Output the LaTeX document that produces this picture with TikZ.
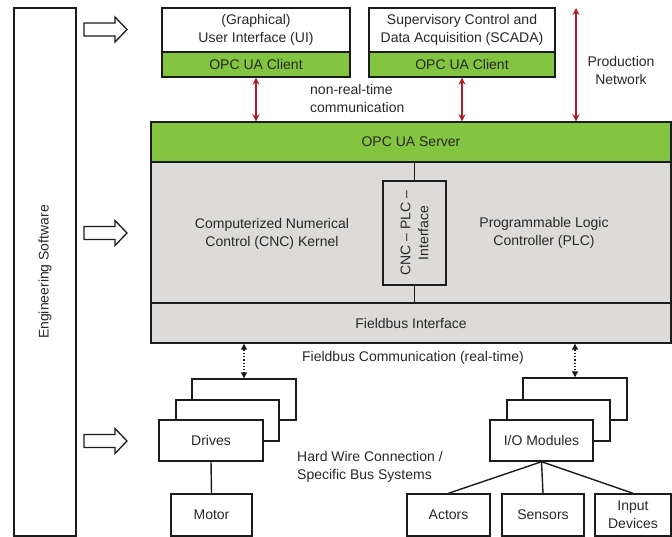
\documentclass[tikz,border=0pt]{standalone}
\usepackage{fontspec}
\setmainfont{Liberation Sans}
\usetikzlibrary{arrows.meta}
\definecolor{opcgreen}{RGB}{131,196,65}
\definecolor{coregray}{RGB}{220,219,217}
\definecolor{netred}{RGB}{180,28,42}
\definecolor{edgecol}{RGB}{28,28,28}
\definecolor{txtcol}{RGB}{40,40,40}

\begin{document}
\begin{tikzpicture}[x=1pt,y=-1pt,
  every node/.style={font=\fontsize{14}{18}\selectfont, text=txtcol},
  box/.style={draw=edgecol, line width=1.4pt, inner sep=0pt, align=center, fill=white},
  greenbox/.style={box, fill=opcgreen},
  graybox/.style={box, fill=coregray},
  label/.style={inner sep=0pt, align=center},
  hollow/.style={draw=edgecol, line width=1.3pt, fill=white, line join=miter},
  netlink/.style={draw=netred, line width=1.7pt, {Stealth[length=7pt,width=7pt]}-{Stealth[length=7pt,width=7pt]}},
  buslink/.style={draw=edgecol, line width=1.3pt, dotted, {Triangle[length=6pt,width=6pt]}-{Triangle[length=6pt,width=6pt]}},
  wire/.style={draw=edgecol, line width=1.4pt}
]
\useasboundingbox (0,0) rectangle (672,537);

% engineering software column
\node[box, minimum width=62pt, minimum height=528pt] (eng) at (45,272) {};
\node[label, rotate=90] (engtxt) at (45,272) {Engineering Software};

% hollow arrows from the engineering software (tail point given)
\foreach \name/\yy in {a1/29.5, a2/233, a3/441} {
  \coordinate (\name) at (84,\yy);
  \draw[hollow] (\name) ++(0,-6.5) -- ++(31,0) -- ++(0,-6) -- ++(12,12.5)
     -- ++(-12,12.5) -- ++(0,-6) -- ++(-31,0) -- cycle;
}

% client applications
\node[box, minimum width=188pt, minimum height=44pt] (ui) at (256,30) {(Graphical)\\User Interface (UI)};
\node[greenbox, minimum width=188pt, minimum height=25pt] (uic) at (256,64.5) {OPC UA Client};
\node[box, minimum width=186pt, minimum height=44pt] (scada) at (462,30) {Supervisory Control and\\Data Acquisition (SCADA)};
\node[greenbox, minimum width=186pt, minimum height=25pt] (scadac) at (462,64.5) {OPC UA Client};

% controller block
\node[graybox, minimum width=520pt, minimum height=141pt] (core) at (411,232.5) {};
\node[greenbox, minimum width=520pt, minimum height=40pt] (server) at (411,142) {OPC UA Server};
\node[graybox, minimum width=520pt, minimum height=40pt] (fieldbus) at (411,323) {Fieldbus Interface};
\node[graybox, minimum width=63pt, minimum height=104pt] (cncplc) at (414.5,233) {};
\node[label, rotate=90] (cncplctxt) at (414.5,233) {CNC -- PLC --\\Interface};
\draw[wire] (cncplc.north) -- (cncplc.north |- core.north);
\draw[wire] (cncplc.south) -- (cncplc.south |- fieldbus.north);
\node[label] (cnc) at (272,234) {Computerized Numerical\\Control (CNC) Kernel};
\node[label] (plc) at (544,233) {Programmable Logic\\Controller (PLC)};

% production network
\coordinate (prodtop) at (576,8);
\draw[netlink] (uic.south) -- (uic.south |- server.north);
\draw[netlink] (scadac.south) -- (scadac.south |- server.north);
\draw[netlink] (prodtop) -- (prodtop |- server.north);
\node[label, align=left, anchor=west] (nrt) at (310,98.5) {non-real-time\\communication};
\node[label] (prodnet) at (621,70.5) {Production\\Network};

% field devices: drives
\node[box, minimum width=104pt, minimum height=41pt] (drv3) at (244,399.5) {};
\node[box, minimum width=103pt, minimum height=41pt] (drv2) at (227.5,420.5) {};
\node[box, minimum width=104pt, minimum height=41pt] (drives) at (211,440.5) {Drives};
\node[box, minimum width=81pt, minimum height=42pt] (motor) at (211.5,515) {Motor};
\draw[wire] (drives.south) -- (motor.north);

% field devices: I/O modules
\node[box, minimum width=104pt, minimum height=42pt] (io3) at (575,399) {};
\node[box, minimum width=103pt, minimum height=41pt] (io2) at (558.5,420.5) {};
\node[box, minimum width=103pt, minimum height=41pt] (io) at (541.5,440.5) {I/O Modules};
\node[box, minimum width=83pt, minimum height=42pt] (actors) at (448.5,515) {Actors};
\node[box, minimum width=82pt, minimum height=42pt] (sensors) at (543,515) {Sensors};
\node[box, minimum width=76pt, minimum height=42pt] (input) at (633,515) {Input\\Devices};
\draw[wire] (io.south) -- (actors.north);
\draw[wire] (io.south) -- (sensors.north);
\draw[wire] (io.south) -- (input.north);

% fieldbus links
\draw[buslink] (fieldbus.south -| drv3.north) -- (drv3.north);
\draw[buslink] (fieldbus.south -| io3.north) -- (io3.north);
\node[label] (fbc) at (413,358) {Fieldbus Communication (real-time)};
\node[label, align=left, anchor=west] (hw) at (297,467) {Hard Wire Connection /\\Specific Bus Systems};
\end{tikzpicture}
\end{document}
